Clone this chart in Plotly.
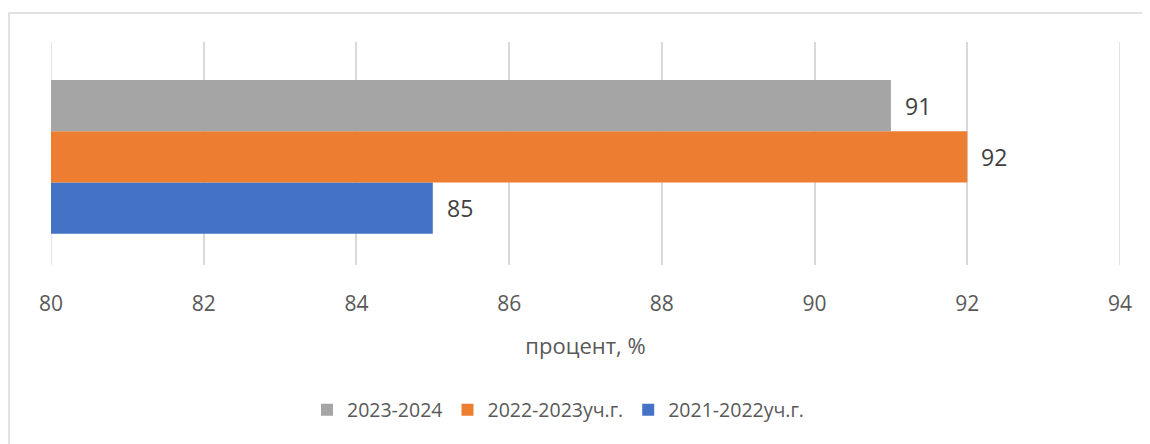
import plotly.graph_objects as go

category = [""]
series_names = ["2021-2022уч.г.", "2022-2023уч.г.", "2023-2024"]
series_values = [[85], [92], [91]]
series_colors = ["#4472C4", "#ED7D31", "#A5A5A5"]
x_ticks = [80, 82, 84, 86, 88, 90, 92, 94]

# page body has an 8px margin, so the figure is made 8px smaller
# and everything is placed 8px up/left
W, H = 1142, 436
ml, mr, mt, mb = 43, 30, 34, 179
pw = W - ml - mr
ph = H - mt - mb

fig = go.Figure()
offsets = [-51, 0, 51]
for name, vals, col, dy in zip(series_names, series_values, series_colors, offsets):
    fig.add_trace(go.Bar(
        y=category, x=[v - 80 for v in vals], base=80, name=name,
        orientation="h", marker=dict(color=col, line_width=0),
        hoverinfo="skip",
    ))
    # data labels
    fig.add_annotation(
        x=vals[0], y=0, text=str(vals[0]), showarrow=False,
        xanchor="left", xshift=12, yshift=dy,
        font=dict(size=23, color="#404040"),
    )

# plotly drops gridlines at the range ends, so draw those two by hand
for t in (x_ticks[0], x_ticks[-1]):
    fig.add_shape(type="line", xref="x", yref="paper", x0=t, x1=t, y0=0, y1=1,
                  line=dict(color="#D9D9D9", width=1.5), layer="below")

# chart border (right and bottom edges fall outside the picture)
fig.add_shape(type="rect", xref="paper", yref="paper",
              x0=(1 - ml) / pw, x1=(1160 - ml) / pw,
              y0=-(460 - mt - ph) / ph, y1=(mt - 5) / ph + 1,
              line=dict(color="#D9D9D9", width=1.5), layer="below")

fig.update_layout(
    width=W, height=H,
    margin=dict(l=ml, r=mr, t=mt, b=mb, autoexpand=False),
    barmode="group", bargap=0.31,
    plot_bgcolor="white", paper_bgcolor="white",
    font=dict(family="Open Sans, Lato, sans-serif", size=20, color="#595959"),
    showlegend=True,
    legend=dict(orientation="h", traceorder="reversed",
                x=(550 - ml) / pw, xanchor="center",
                y=-(402 - mt - ph) / ph, yanchor="middle",
                font=dict(size=19.5, color="#595959"),
                itemwidth=30, bgcolor="rgba(0,0,0,0)"),
)
fig.update_xaxes(range=[80, 94], tickvals=x_ticks, showgrid=True,
                 gridcolor="#D9D9D9", gridwidth=1.5, zeroline=False,
                 showline=False, ticks="", ticklabelstandoff=24,
                 tickfont=dict(size=21, color="#595959"),
                 title=dict(text="процент, %", standoff=22,
                            font=dict(size=22, color="#595959")))
fig.update_yaxes(showgrid=False, showticklabels=False, zeroline=False,
                 showline=False, range=[-0.485, 0.515])

fig.write_html("out.html")
